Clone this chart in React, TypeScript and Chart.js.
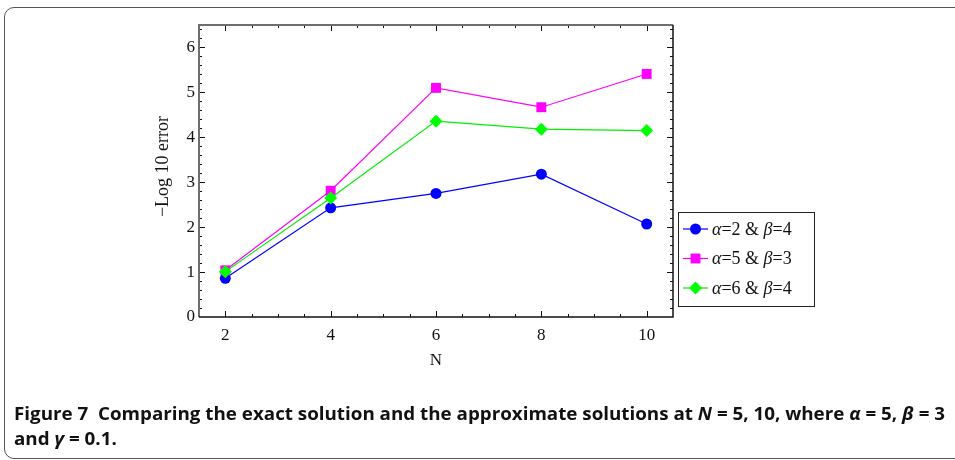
import React, { useEffect, useLayoutEffect, useRef } from "react";
import { Chart, registerables } from "chart.js";

Chart.register(...registerables);

// Number of collocation points N
const nValues = [2, 4, 6, 8, 10];
// −log10 of the maximum error for each parameter pair
const errAlpha2Beta4 = [0.86, 2.43, 2.75, 3.18, 2.07];
const errAlpha5Beta3 = [1.04, 2.81, 5.1, 4.67, 5.41];
const errAlpha6Beta4 = [1.01, 2.65, 4.36, 4.18, 4.15];
const yTickValues = [0, 1, 2, 3, 4, 5, 6];
const seriesNames = ["α=2 & β=4", "α=5 & β=3", "α=6 & β=4"];

const SERIF = "'Liberation Serif', 'Times New Roman', serif";

type Marker = { style: string; radius: number };

function drawMarker(ctx: CanvasRenderingContext2D, m: Marker, x: number, y: number) {
  ctx.beginPath();
  if (m.style === "circle") {
    ctx.arc(x, y, m.radius, 0, Math.PI * 2);
  } else if (m.style === "rect") {
    const s = m.radius * Math.SQRT1_2;
    ctx.rect(x - s, y - s, 2 * s, 2 * s);
  } else {
    const r = m.radius;
    ctx.moveTo(x, y - r);
    ctx.lineTo(x + r, y);
    ctx.lineTo(x, y + r);
    ctx.lineTo(x - r, y);
    ctx.closePath();
  }
  ctx.fill();
}

// Greek letters are set in italic, everything else upright
function drawLegendText(ctx: CanvasRenderingContext2D, text: string, x: number, y: number) {
  let cx = x;
  for (const ch of text) {
    const greek = /[\u0370-\u03ff]/.test(ch);
    ctx.font = `${greek ? "italic " : ""}18px ${SERIF}`;
    ctx.fillText(ch, cx, y);
    cx += ctx.measureText(ch).width;
  }
}

const framePlugin = {
  id: "mmaFrame",
  afterDraw(chart: any) {
    const { ctx, chartArea } = chart;
    const { left, right, top, bottom } = chartArea;
    const xs = chart.scales.x;
    const ys = chart.scales.y;
    ctx.save();

    // ticks on all four sides, pointing inward
    ctx.strokeStyle = "#111";
    ctx.lineWidth = 1;
    for (let k = 4; k <= 20; k++) {
      const v = k / 2;
      const len = nValues.includes(v) ? 6 : 3;
      const px = Math.round(xs.getPixelForValue(v)) + 0.5;
      ctx.beginPath();
      ctx.moveTo(px, bottom);
      ctx.lineTo(px, bottom - len);
      ctx.moveTo(px, top);
      ctx.lineTo(px, top + len);
      ctx.stroke();
    }
    for (let k = 1; k <= 32; k++) {
      const v = k / 5;
      const len = k % 5 === 0 ? 6 : 3;
      const py = Math.round(ys.getPixelForValue(v)) + 0.5;
      ctx.beginPath();
      ctx.moveTo(left, py);
      ctx.lineTo(left + len, py);
      ctx.moveTo(right, py);
      ctx.lineTo(right - len, py);
      ctx.stroke();
    }

    // frame
    ctx.lineWidth = 2;
    ctx.strokeStyle = "#6e6e6e";
    ctx.beginPath();
    ctx.moveTo(left, bottom);
    ctx.lineTo(left, top);
    ctx.lineTo(right, top);
    ctx.stroke();
    ctx.lineWidth = 1.5;
    ctx.strokeStyle = "#111";
    ctx.beginPath();
    ctx.moveTo(right, top);
    ctx.lineTo(right, bottom);
    ctx.lineTo(left, bottom);
    ctx.stroke();

    // legend box to the right of the plot
    const bx = right + 5;
    const by = top + 187;
    const bw = 136;
    const bh = 94;
    ctx.lineWidth = 1;
    ctx.strokeStyle = "#222";
    ctx.fillStyle = "#fff";
    ctx.fillRect(bx, by, bw, bh);
    ctx.strokeRect(bx + 0.5, by + 0.5, bw, bh);
    chart.data.datasets.forEach((ds: any, i: number) => {
      const ry = by + 17 + i * 29.5;
      ctx.strokeStyle = ds.borderColor;
      ctx.lineWidth = 1.2;
      ctx.beginPath();
      ctx.moveTo(bx + 5, ry);
      ctx.lineTo(bx + 30, ry);
      ctx.stroke();
      ctx.fillStyle = ds.backgroundColor;
      drawMarker(ctx, { style: ds.pointStyle, radius: ds.pointRadius }, bx + 17.5, ry);
      ctx.fillStyle = "#111";
      ctx.textBaseline = "middle";
      ctx.textAlign = "left";
      drawLegendText(ctx, ds.label, bx + 34, ry + 1);
    });
    ctx.restore();
  },
};

function ChartCanvas() {
  const ref = useRef<HTMLCanvasElement>(null);
  useEffect(() => {
    if (!ref.current) return;
    const toPoints = (vals: number[]) => nValues.map((n, i) => ({ x: n, y: vals[i] }));
    const chart = new Chart(ref.current, {
      type: "line",
      data: {
        datasets: [
          {
            label: seriesNames[0],
            data: toPoints(errAlpha2Beta4),
            borderColor: "#0000ff",
            backgroundColor: "#0000ff",
            pointStyle: "circle",
            pointRadius: 5.5,
            pointBorderWidth: 0,
            borderWidth: 1.2,
            order: 3,
          },
          {
            label: seriesNames[1],
            data: toPoints(errAlpha5Beta3),
            borderColor: "#ff00ff",
            backgroundColor: "#ff00ff",
            pointStyle: "rect",
            pointRadius: 7,
            pointBorderWidth: 0,
            borderWidth: 1.2,
            order: 2,
          },
          {
            label: seriesNames[2],
            data: toPoints(errAlpha6Beta4),
            borderColor: "#00ee00",
            backgroundColor: "#00ff00",
            pointStyle: "rectRot",
            pointRadius: 6.5,
            pointBorderWidth: 0,
            borderWidth: 1.2,
            order: 1,
          },
        ],
      },
      options: {
        animation: false,
        responsive: false,
        maintainAspectRatio: false,
        layout: { padding: { left: 150, top: 25, right: 282, bottom: 80 } },
        plugins: { legend: { display: false }, tooltip: { enabled: false } },
        elements: { line: { tension: 0 } },
        scales: {
          x: {
            type: "linear",
            min: 1.5,
            max: 10.5,
            grid: { display: false, drawTicks: false },
            border: { display: false },
            afterBuildTicks: (s: any) => {
              s.ticks = nValues.map((v) => ({ value: v }));
            },
            afterFit: (s: any) => {
              s.height = 63;
            },
            ticks: {
              padding: 8,
              color: "#111",
              autoSkip: false,
              maxRotation: 0,
              font: { family: SERIF, size: 17 },
            },
            title: {
              display: true,
              text: "N",
              color: "#111",
              padding: { top: 0, bottom: 9 },
              font: { family: SERIF, size: 17 },
            },
          },
          y: {
            type: "linear",
            min: 0,
            max: 6.5,
            grid: { display: false, drawTicks: false },
            border: { display: false },
            afterBuildTicks: (s: any) => {
              s.ticks = yTickValues.map((v) => ({ value: v }));
            },
            afterFit: (s: any) => {
              s.width = 49;
            },
            ticks: {
              padding: 4,
              color: "#111",
              font: { family: SERIF, size: 17 },
            },
            title: {
              display: true,
              text: "  −Log 10 error",
              color: "#111",
              padding: { top: 2, bottom: 0 },
              font: { family: SERIF, size: 18 },
            },
          },
        },
      },
      plugins: [framePlugin],
    });
    return () => chart.destroy();
  }, []);
  return (
    <canvas
      ref={ref}
      width={955}
      height={460}
      style={{ position: "absolute", left: 0, top: 0, width: 955, height: 460 }}
    />
  );
}

function Caption() {
  const boxRef = useRef<HTMLDivElement>(null);
  const firstRef = useRef<HTMLSpanElement>(null);
  useLayoutEffect(() => {
    const box = boxRef.current;
    const first = firstRef.current;
    if (!box || !first) return;
    const w = first.getBoundingClientRect().width;
    if (w > 0) box.style.transform = `scaleX(${931 / w})`;
  }, []);
  return (
    <div
      ref={boxRef}
      style={{
        position: "absolute",
        left: 14,
        top: 400,
        transformOrigin: "left top",
        fontFamily: "'Open Sans', 'Noto Sans', sans-serif",
        fontWeight: 700,
        fontSize: 18.5,
        lineHeight: "25px",
        color: "#111",
        whiteSpace: "pre",
      }}
    >
      <span ref={firstRef}>
        {"Figure 7  Comparing the exact solution and the approximate solutions at "}
        <i>N</i>
        {" = 5, 10, where "}
        <i>α</i>
        {" = 5, "}
        <i>β</i>
        {" = 3"}
      </span>
      <br />
      <span>
        {"and "}
        <i>γ</i>
        {" = 0.1."}
      </span>
    </div>
  );
}

export default function App() {
  return (
    <div
      style={{
        position: "fixed",
        left: 0,
        top: 0,
        width: 955,
        height: 460,
        background: "#fff",
        overflow: "hidden",
      }}
    >
      <div
        style={{
          position: "absolute",
          left: 4,
          top: 7,
          width: 1000,
          height: 450,
          border: "1px solid #555",
          borderRadius: 10,
        }}
      />
      <ChartCanvas />
      <Caption />
    </div>
  );
}
